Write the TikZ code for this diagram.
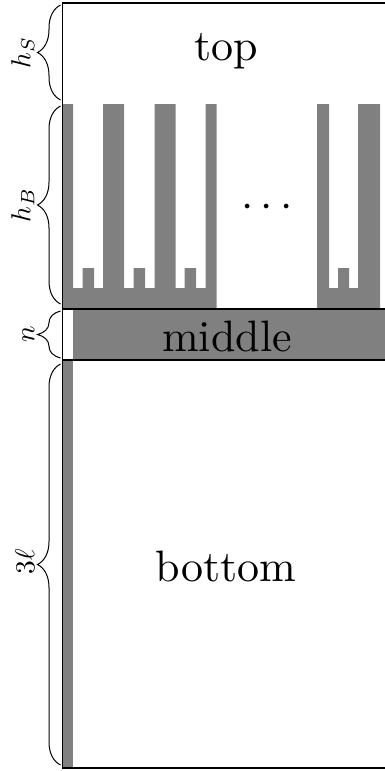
\documentclass[tikz,border=0pt]{standalone}
\usetikzlibrary{decorations.pathreplacing}
\definecolor{fillgray}{RGB}{128,128,128}
\tikzset{
  frameline/.style={line width=1.2pt, line cap=rect},
  graybox/.style={fill=fillgray, draw=none},
  bigtext/.style={scale=4.4, inner sep=0pt},
  dimlabel/.style={scale=2.75, rotate=90, anchor=south, inner sep=0pt},
  dimbrace/.style={decorate, decoration={brace, amplitude=23pt, mirror}, line width=1pt}
}
\begin{document}
\begin{tikzpicture}[x=1pt, y=-1pt]
\useasboundingbox (0,0) rectangle (385,771);
% named levels
\coordinate (tl) at (62.5,3);
\coordinate (tr) at (390,3);
\coordinate (cl) at (62.5,309);
\coordinate (cr) at (390,309);
\coordinate (ml) at (62.5,360);
\coordinate (mr) at (390,360);
\coordinate (bl) at (62.5,768);
\coordinate (br) at (390,768);
% gray fills
\fill[graybox] (72.5,309) rectangle (390,360);
\fill[graybox] (62.5,360) rectangle (72.5,768);
\fill[graybox] (63,309) -- (63,104) -- (73,104) -- (73,288) -- (82.5,288) -- (82.5,268) -- (94,268) -- (94,288)
  -- (103,288) -- (103,104) -- (124,104) -- (124,288) -- (133.5,288) -- (133.5,268) -- (145,268) -- (145,288)
  -- (154.5,288) -- (154.5,104) -- (175.5,104) -- (175.5,288) -- (184.5,288) -- (184.5,268) -- (196,268) -- (196,288)
  -- (205.5,288) -- (205.5,104) -- (216.5,104) -- (216.5,309) -- cycle;
\fill[graybox] (317,309) -- (317,104) -- (329,104) -- (329,288) -- (338,288) -- (338,268) -- (349,268) -- (349,288)
  -- (358,288) -- (358,104) -- (380,104) -- (380,309) -- cycle;
% frame
\draw[frameline] (tr) -- (tl) -- (bl) -- (br);
\draw[frameline] (cl) -- (cr);
\draw[frameline] (ml) -- (mr);
% texts
\node[bigtext] (top) at (226,51) {top};
\node[bigtext] (middle) at (227,336) {middle};
\node[bigtext] (bottom) at (226,566) {bottom};
\node[bigtext] (dots) at (267,208) {$\cdots$};
% braces
\coordinate (s1) at (60.5,5);
\coordinate (s2) at (60.5,100);
\coordinate (b1) at (60.5,106);
\coordinate (b2) at (60.5,304);
\coordinate (n1) at (60.5,311);
\coordinate (n2) at (60.5,358);
\coordinate (l1) at (60.5,364);
\coordinate (l2) at (60.5,765);
\draw[dimbrace] (s1) -- (s2);
\draw[dimbrace] (b1) -- (b2);
\draw[dimbrace] (n1) -- (n2);
\draw[dimbrace] (l1) -- (l2);
\node[dimlabel] (hS) at (35,52.5) {$h_S$};
\node[dimlabel] (hB) at (35,205) {$h_B$};
\node[dimlabel] (nn) at (35,334.5) {$n$};
\node[dimlabel] (ell) at (35,562) {$3\ell$};
\end{tikzpicture}
\end{document}
